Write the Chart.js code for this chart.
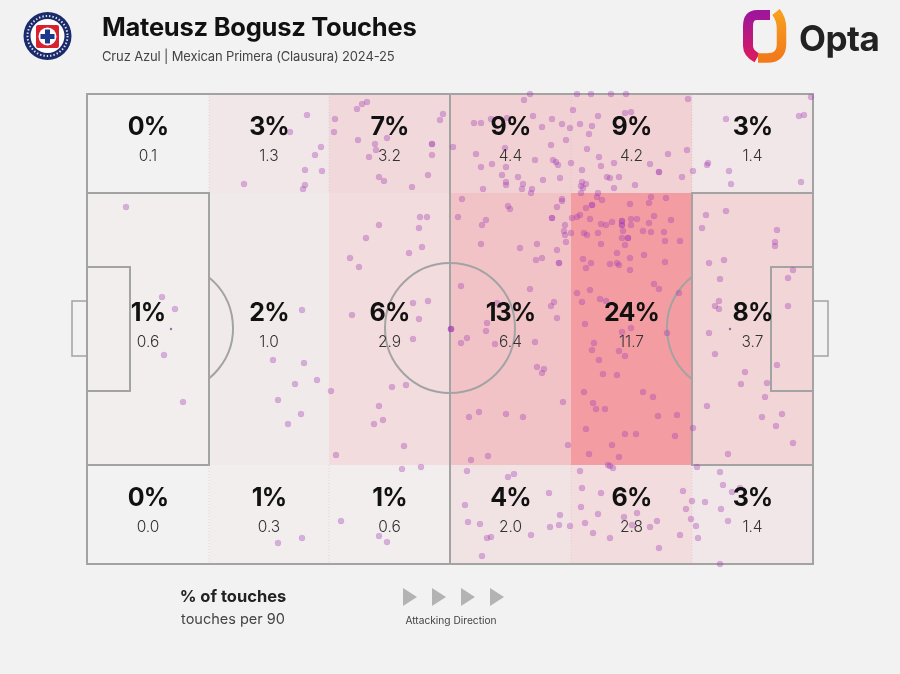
<!DOCTYPE html>
<html>
<head>
<meta charset="utf-8">
<title>Mateusz Bogusz Touches</title>
<script src="https://cdn.jsdelivr.net/npm/chart.js@4/dist/chart.umd.min.js"></script>
<style>
  html, body { margin: 0; padding: 0; background: #f2f2f2; }
  #wrap { position: relative; width: 900px; height: 674px; overflow: hidden; font-family: Inter, sans-serif; color: #111; }
  #chart { position: absolute; left: 0; top: 0; }
  .txt { position: absolute; white-space: nowrap; }
  #title { left: 102px; top: 11px; font-size: 25.5px; font-weight: 700; letter-spacing: -0.25px; }
  #subtitle { left: 102px; top: 48px; font-size: 13px; color: #444; letter-spacing: -0.15px; }
  #legendMain { left: 133px; width: 200px; top: 586px; text-align: center; font-size: 16.5px; font-weight: 700; color: #222; }
  #legendSub { left: 133px; width: 200px; top: 610px; text-align: center; font-size: 14.5px; color: #444; }
  #attack { left: 351px; width: 200px; top: 614px; text-align: center; font-size: 10.2px; color: #444; }
  #optaWord { left: 799px; top: 17px; font-size: 35px; font-weight: 700; color: #222; letter-spacing: -0.5px; }
  svg { position: absolute; left: 0; top: 0; }
</style>
</head>
<body>
<div id="wrap">
  <canvas id="chart" width="900" height="674"></canvas>

  <svg width="900" height="674">
    <defs>
      <linearGradient id="optaLeft" x1="0" y1="0" x2="0" y2="1">
        <stop offset="0" stop-color="#a0169a"/>
        <stop offset="1" stop-color="#d81b60"/>
      </linearGradient>
      <linearGradient id="optaRight" x1="0" y1="0" x2="0" y2="1">
        <stop offset="0" stop-color="#f7a01e"/>
        <stop offset="1" stop-color="#f27a1a"/>
      </linearGradient>
    </defs>
    <!-- escudo -->
    <circle cx="47.5" cy="36" r="24" fill="#1b2a6b"/>
    <circle cx="47.5" cy="36" r="20" fill="none" stroke="#dfe3ee" stroke-width="2" stroke-dasharray="1.4 2"/>
    <circle cx="47.5" cy="36" r="17" fill="#fff"/>
    <rect x="36" y="25" width="23" height="23" rx="2" fill="#d8222f"/>
    <circle cx="47.5" cy="36.5" r="9" fill="#fff"/>
    <path d="M45 29.5h5v4.5h4.5v5H50v4.5h-5V39h-4.5v-5H45z" fill="#1b3a8c"/>
    <!-- logo opta -->
    <path d="M770 15 H757 Q748 15 748 26 V46 Q748 53 757 58" fill="none" stroke="url(#optaLeft)" stroke-width="10"/>
    <path d="M776 12 Q781.5 19 781.5 28 V44 Q781.5 58 767 58 H758" fill="none" stroke="url(#optaRight)" stroke-width="9.5"/>
    <!-- setas -->
    <polygon points="403,588 417,597 403,606" fill="#b3b3b3"/>
    <polygon points="432,588 446,597 432,606" fill="#b3b3b3"/>
    <polygon points="461,588 475,597 461,606" fill="#b3b3b3"/>
    <polygon points="490,588 504,597 490,606" fill="#b3b3b3"/>
  </svg>

  <div class="txt" id="title">Mateusz Bogusz Touches</div>
  <div class="txt" id="subtitle">Cruz Azul | Mexican Primera (Clausura) 2024-25</div>
  <div class="txt" id="optaWord">Opta</div>
  <div class="txt" id="legendMain">% of touches</div>
  <div class="txt" id="legendSub">touches per 90</div>
  <div class="txt" id="attack">Attacking Direction</div>
</div>

<script>
// ====== DADOS ======
// zonas do campo, em unidades do campo (0-72.6 por 0-47)
const zoneEdgesX = [0, 12.2, 24.2, 36.3, 48.4, 60.5, 72.6];
const zoneEdgesY = [47, 37.1, 9.9, 0];

const zonePct = [
  [0, 3, 7, 9, 9, 3],
  [1, 2, 6, 13, 24, 8],
  [0, 1, 1, 4, 6, 3],
];
const zonePer90 = [
  ["0.1", "1.3", "3.2", "4.4", "4.2", "1.4"],
  ["0.6", "1.0", "2.9", "6.4", "11.7", "3.7"],
  ["0.0", "0.3", "0.6", "2.0", "2.8", "1.4"],
];

// toques (repetidos onde o ponto fica mais escuro)
const topLeftX = [
  28.0, 27.5, 27.0, 35.6, 35.3, 24.8, 24.7, 22.0, 20.3, 27.1,
  30.0, 28.8, 28.9, 28.2, 34.5, 34.5, 34.5, 23.4, 22.8, 21.8,
  23.5, 34.1, 29.2, 29.7, 32.5, 15.7, 21.8, 21.6,
];
const topLeftY = [
  46.2, 46.0, 45.5, 45.0, 44.4, 44.5, 43.2, 44.9, 43.2, 42.4,
  42.6, 42.0, 41.4, 40.7, 42.0, 42.0, 40.9, 41.7, 40.9, 39.4,
  39.3, 38.9, 38.7, 38.3, 37.7, 38.0, 37.9, 37.5,
];

const topRightX = [
  44.3, 49.0, 50.4, 52.4, 53.9, 43.7, 60.1, 72.4, 48.6, 53.8,
  54.4, 51.1, 71.2, 71.7, 63.9, 38.7, 39.4, 40.4, 42.0, 44.6,
  46.5, 47.5, 45.5, 48.3, 49.3, 50.5, 50.2, 47.9, 36.6, 46.4,
  41.8, 50.0, 38.9, 51.2, 58.1, 60.0, 40.5, 39.4, 41.9, 44.8,
  46.6, 46.9, 47.1, 48.4, 51.4, 52.7, 56.3, 57.2, 57.2, 60.6,
  62.0, 62.1, 64.2, 49.5, 41.5, 43.1, 45.6, 47.3, 52.0, 52.3,
  53.2, 59.5, 64.4, 71.4, 41.9, 41.9, 43.6, 43.5, 44.5, 44.4,
  39.6, 49.5, 49.9, 49.4, 49.6, 49.4, 52.7, 54.8, 51.1, 51.0,
  37.5, 47.5, 56.4, 57.9,
];
const topRightY = [
  47.0, 47.0, 47.0, 47.0, 47.0, 46.4, 46.5, 46.7, 45.4, 45.1,
  45.2, 44.8, 44.8, 44.9, 44.5, 44.1, 44.1, 44.5, 44.6, 44.8,
  44.5, 44.0, 43.7, 43.6, 44.0, 43.8, 43.0, 42.4, 41.7, 41.9,
  41.6, 41.5, 41.0, 40.7, 41.0, 41.4, 40.0, 39.7, 39.7, 40.4,
  40.4, 40.2, 39.9, 40.1, 39.8, 40.1, 40.0, 39.2, 39.2, 39.3,
  39.9, 40.1, 39.3, 39.4, 38.9, 38.7, 38.4, 38.6, 38.7, 38.6,
  38.7, 38.7, 38.0, 38.2, 38.2, 37.9, 38.0, 37.5, 37.5, 37.1,
  37.5, 38.2, 38.0, 37.8, 37.6, 37.1, 37.6, 37.9, 37.1, 36.7,
  36.5, 36.5, 36.7, 36.6,
];

const midLeftX = [
  3.9, 7.5, 8.8, 7.7, 9.6, 21.5, 18.6, 21.7, 20.8, 23.0,
  24.4, 19.1, 21.4, 20.1, 24.9, 33.3, 34.0, 29.2, 33.2, 27.9,
  33.5, 32.2, 26.3, 27.2, 32.6, 34.1, 26.5, 33.2, 32.6, 30.5,
  31.9, 29.2, 29.6, 28.7, 31.7, 33.4, 31.5, 36.4, 36.4, 36.4,
];
const midLeftY = [
  35.7, 26.7, 25.5, 20.9, 16.2, 25.4, 20.4, 20.1, 18.0, 18.4,
  17.3, 16.4, 15.0, 14.0, 10.9, 34.7, 34.7, 33.9, 33.6, 32.6,
  31.7, 31.1, 30.6, 29.7, 26.1, 26.3, 24.9, 24.5, 22.5, 17.7,
  17.9, 15.8, 14.4, 14.0, 11.8, 9.7, 9.5, 23.5, 23.5, 23.5,
];

const midRightX = [
  37.1, 39.9, 39.5, 42.1, 42.3, 39.4, 43.3, 45.0, 46.5, 46.5,
  47.0, 47.5, 47.0, 45.5, 44.9, 47.2, 47.2, 47.8, 47.7, 47.8,
  48.4, 47.9, 48.5, 49.0, 49.3, 49.9, 50.5, 50.5, 51.5, 54.3,
  56.2, 50.3, 51.4, 51.9, 52.5, 53.5, 53.5, 53.5, 53.5, 54.4,
  55.0, 54.4, 53.6, 56.2, 56.7, 58.4, 49.7, 50.0, 51.1, 51.4,
  53.5, 54.1, 54.1, 53.8, 55.6, 56.4, 57.7, 57.8, 59.3, 53.0,
  55.7, 54.3, 49.6, 50.4, 49.9, 52.3, 53.0, 53.2, 54.3, 57.8,
  56.7, 57.2, 37.4, 44.3, 49.0, 50.3, 49.5, 51.3, 51.9, 46.7,
  46.4, 41.0, 47.0, 40.0, 39.9, 49.8, 38.0, 37.4, 40.8, 44.8,
  53.5, 54.4, 58.0, 59.2, 50.7, 50.5, 53.2, 53.8, 51.2, 45.0,
  45.7, 45.5, 51.6, 53.0, 49.7, 55.6, 56.6, 47.6, 50.6, 50.9,
  51.8, 39.2, 38.2, 41.9, 43.6, 57.1, 59.0, 49.9, 53.8, 54.9,
  58.8, 60.6, 48.1, 52.5, 50.2, 53.2, 40.1, 38.4,
  61.9, 63.9, 61.5, 69.0, 68.8, 68.8, 63.7, 62.2, 70.6, 70.1,
  63.3, 63.2, 62.8, 63.2, 70.1, 62.2, 62.8, 69.0, 65.8, 65.4,
  68.0, 67.8, 62.0, 69.5, 67.5, 68.9, 70.6, 64.1,
];
const midRightY = [
  34.7, 34.4, 33.9, 35.8, 35.5, 32.0, 31.6, 32.0, 34.6, 34.6,
  35.7, 36.3, 31.4, 30.6, 30.4, 30.1, 30.1, 33.9, 33.3, 32.9,
  33.1, 32.2, 34.6, 34.7, 34.9, 35.6, 35.9, 35.9, 36.4, 36.0,
  36.1, 34.5, 34.0, 33.9, 34.2, 34.3, 34.3, 33.9, 33.9, 34.5,
  34.5, 33.9, 33.3, 34.1, 34.8, 34.4, 33.1, 32.9, 33.1, 32.0,
  32.6, 32.6, 32.6, 31.9, 33.3, 33.2, 33.2, 32.3, 32.3, 31.1,
  30.9, 30.6, 30.5, 30.1, 29.6, 30.0, 30.1, 29.9, 29.4, 30.2,
  28.0, 27.5, 27.8, 27.5, 27.1, 27.4, 26.2, 26.5, 26.3, 26.2,
  25.8, 26.1, 24.6, 24.1, 23.3, 24.0, 22.6, 22.1, 22.0, 22.2,
  23.2, 23.6, 23.1, 27.1, 22.1, 21.4, 21.3, 20.8, 20.4, 19.7,
  19.5, 19.1, 19.0, 18.9, 17.2, 17.2, 16.7, 16.2, 16.1, 15.5,
  15.5, 15.2, 14.7, 15.0, 14.7, 14.8, 14.9, 13.5, 13.0, 13.0,
  12.8, 13.6, 11.9, 11.9, 11.0, 10.7, 10.8, 10.4,
  34.9, 35.3, 33.6, 33.4, 32.2, 31.8, 30.4, 30.1, 29.4, 28.6,
  28.5, 26.3, 25.8, 25.5, 25.8, 23.1, 21.0, 19.9, 19.2, 18.0,
  18.1, 16.7, 15.8, 15.0, 14.7, 13.8, 12.1, 11.0,
];

const bottomX = [
  25.4, 29.2, 30.0, 21.5, 19.1, 38.0, 42.1, 42.7, 46.2, 37.8,
  38.1, 39.3, 40.0, 40.4, 39.5, 44.4, 46.3, 47.2, 47.3, 48.3,
  49.3, 49.5, 49.4, 51.4, 51.1, 49.8, 50.6, 52.3, 53.7, 55.0,
  54.5, 56.3, 57.0, 57.2, 59.3, 59.6, 60.5, 59.9, 60.4, 60.9,
  61.1, 61.8, 63.3, 63.6, 64.5, 65.3, 63.4, 64.1, 63.3, 61.0,
  52.1, 52.6, 52.3,
];
const bottomY = [
  4.3, 2.8, 2.2, 2.6, 2.1, 9.3, 8.7, 9.0, 7.1, 5.9,
  4.2, 4.0, 2.6, 2.7, 0.8, 2.9, 3.7, 3.9, 4.9, 3.8,
  9.3, 7.6, 5.7, 7.1, 5.0, 4.1, 3.1, 2.6, 4.7, 5.1,
  3.9, 3.7, 4.3, 1.6, 2.9, 7.3, 6.3, 5.5, 4.5, 3.8,
  2.6, 6.2, 9.2, 7.9, 7.2, 7.6, 5.5, 4.3, 0.0, 9.7,
  9.9, 9.6, 9.8,
];

// dois pontinhos menores
const tinyX = [8.4, 64.3];
const tinyY = [23.5, 23.5];

const touchX = [...topLeftX, ...topRightX, ...midLeftX, ...midRightX, ...bottomX];
const touchY = [...topLeftY, ...topRightY, ...midLeftY, ...midRightY, ...bottomY];

// ====== DESENHO DO CAMPO ======
const LINE_COLOR = "#a3a3a3";

const pitchPlugin = {
  id: "pitch",
  beforeDatasetsDraw(chart) {
    const { ctx, scales } = chart;
    const px = (v) => scales.x.getPixelForValue(v);
    const py = (v) => scales.y.getPixelForValue(v);

    ctx.save();

    // zonas
    zonePct.forEach((row, r) => {
      row.forEach((pct, c) => {
        ctx.fillStyle = `rgba(242, 122, 130, ${pct * 0.03})`;
        ctx.fillRect(
          px(zoneEdgesX[c]),
          py(zoneEdgesY[r]),
          px(zoneEdgesX[c + 1]) - px(zoneEdgesX[c]),
          py(zoneEdgesY[r + 1]) - py(zoneEdgesY[r])
        );
      });
    });

    // divisoes fracas
    ctx.strokeStyle = "rgba(190, 170, 170, 0.35)";
    ctx.lineWidth = 1;
    ctx.setLineDash([1, 2]);
    [12.2, 24.2, 48.4, 60.5].forEach((x) => {
      [[47, 37.1], [9.9, 0]].forEach(([a, b]) => {
        ctx.beginPath();
        ctx.moveTo(px(x), py(a));
        ctx.lineTo(px(x), py(b));
        ctx.stroke();
      });
    });
    ctx.setLineDash([]);

    // linhas
    ctx.strokeStyle = LINE_COLOR;
    ctx.lineWidth = 2;
    const box = (x0, y0, x1, y1) => {
      ctx.strokeRect(px(x0), py(y1), px(x1) - px(x0), py(y0) - py(y1));
    };
    box(0, 0, 72.6, 47);
    box(0, 9.9, 12.2, 37.1);
    box(60.5, 9.9, 72.6, 37.1);
    box(0, 17.3, 4.3, 29.7);
    box(68.4, 17.3, 72.6, 29.7);
    ctx.lineWidth = 1.5;
    box(-1.5, 20.8, 0, 26.3);
    box(72.6, 20.8, 74.1, 26.3);

    ctx.lineWidth = 2;
    ctx.beginPath();
    ctx.moveTo(px(36.3), py(0));
    ctx.lineTo(px(36.3), py(47));
    ctx.stroke();

    const unit = px(1) - px(0);
    ctx.beginPath();
    ctx.arc(px(36.3), py(23.6), 6.5 * unit, 0, Math.PI * 2);
    ctx.stroke();

    // meias-luas
    const dAngle = Math.acos(4.1 / 6.5);
    ctx.beginPath();
    ctx.arc(px(8.1), py(23.6), 6.5 * unit, -dAngle, dAngle);
    ctx.stroke();
    ctx.beginPath();
    ctx.arc(px(64.5), py(23.6), 6.5 * unit, Math.PI - dAngle, Math.PI + dAngle);
    ctx.stroke();

    ctx.restore();
  },
  afterDatasetsDraw(chart) {
    const { ctx, scales } = chart;
    const px = (v) => scales.x.getPixelForValue(v);
    const py = (v) => scales.y.getPixelForValue(v);

    ctx.save();
    ctx.textAlign = "center";
    ctx.textBaseline = "middle";
    zonePct.forEach((row, r) => {
      row.forEach((pct, c) => {
        const cx = (px(zoneEdgesX[c]) + px(zoneEdgesX[c + 1])) / 2;
        const cy = (py(zoneEdgesY[r]) + py(zoneEdgesY[r + 1])) / 2;
        ctx.fillStyle = "#111";
        ctx.font = "700 25px Inter";
        ctx.letterSpacing = "-0.9px";
        ctx.fillText(pct + "%", cx, cy - 16);
        ctx.fillStyle = "#333";
        ctx.font = "300 15.5px Inter";
        ctx.letterSpacing = "0px";
        ctx.fillText(zonePer90[r][c], cx, cy + 13);
      });
    });
    ctx.restore();
  },
};

// ====== GRAFICO ======
const toPoints = (xs, ys) => xs.map((x, i) => ({ x, y: ys[i] }));

new Chart(document.getElementById("chart"), {
  type: "scatter",
  data: {
    datasets: [
      {
        label: "Touches",
        data: toPoints(touchX, touchY),
        backgroundColor: "rgba(160, 60, 180, 0.36)",
        borderColor: "rgba(160, 60, 180, 0.08)",
        borderWidth: 1,
        pointRadius: 3.1,
        clip: false,
      },
      {
        label: "Tiny",
        data: toPoints(tinyX, tinyY),
        backgroundColor: "rgba(120, 50, 130, 0.7)",
        borderWidth: 0,
        pointRadius: 1.2,
        clip: false,
      },
    ],
  },
  options: {
    responsive: false,
    animation: false,
    layout: { padding: { left: 87, right: 87, top: 94, bottom: 110 } },
    plugins: {
      legend: { display: false },
      tooltip: { enabled: false },
    },
    scales: {
      x: { type: "linear", min: 0, max: 72.6, display: false },
      y: { type: "linear", min: 0, max: 47, display: false },
    },
  },
  plugins: [pitchPlugin],
});
</script>
</body>
</html>
